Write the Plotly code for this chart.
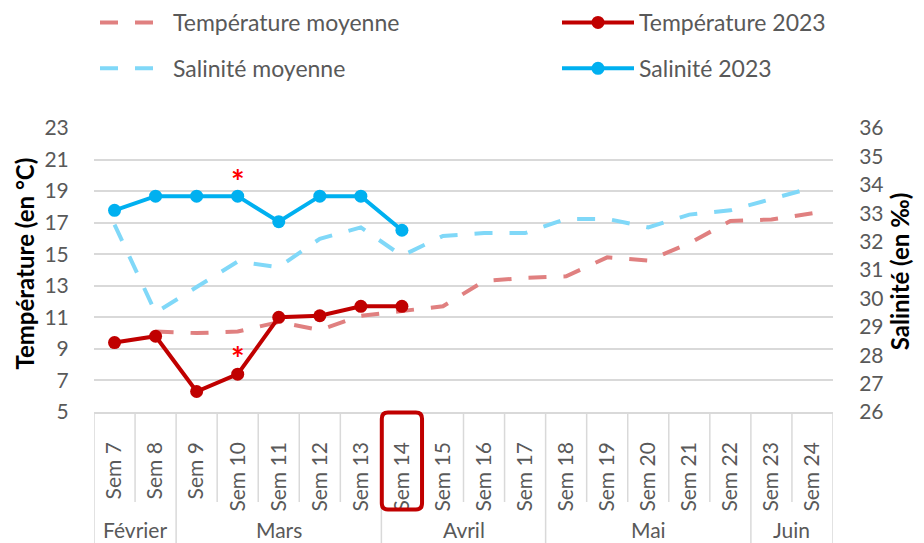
import plotly.graph_objects as go

weeks = ["Sem 7", "Sem 8", "Sem 9", "Sem 10", "Sem 11", "Sem 12", "Sem 13", "Sem 14", "Sem 15",
         "Sem 16", "Sem 17", "Sem 18", "Sem 19", "Sem 20", "Sem 21", "Sem 22", "Sem 23", "Sem 24"]
months = ["Février", "Mars", "Avril", "Mai", "Juin"]
month_of_week = ["Février", "Février", "Mars", "Mars", "Mars", "Mars", "Mars", "Avril", "Avril",
                 "Avril", "Avril", "Mai", "Mai", "Mai", "Mai", "Mai", "Juin", "Juin"]

temp_moyenne = [None, 10.1, 10.0, 10.1, 10.7, 10.2, 11.1, 11.4, 11.7, 13.3, 13.5, 13.6, 14.8, 14.6,
                15.7, 17.1, 17.2, 17.6]
temp_2023 = [9.4, 9.8, 6.3, 7.4, 11.0, 11.1, 11.7, 11.7] + [None] * 10
sal_moyenne = [32.6, 29.5, 30.4, 31.3, 31.1, 32.1, 32.5, 31.5, 32.2, 32.3, 32.3, 32.8, 32.8, 32.5,
               32.95, 33.1, 33.5, 33.9]
sal_2023 = [33.1, 33.6, 33.6, 33.6, 32.7, 33.6, 33.6, 32.4] + [None] * 10

highlight_week = "Sem 14"
star_week = "Sem 10"

FONT = "Lato"
GREY = "#595959"
GRID = "#D9D9D9"
FS = 21
# the page body adds an 8px offset, so the figure is sized to fit the 924x543 window
W, H = 916, 535
ML, MR, MT, MB = 86, 91, 120, 131
PH = H - MT - MB

fig = go.Figure()
fig.add_trace(go.Scatter(x=weeks, y=temp_moyenne, name="Température moyenne", mode="lines",
                         line=dict(color="#E08080", width=4, dash="18px,17px"),
                         legend="legend", legendgroup="a"))
fig.add_trace(go.Scatter(x=weeks, y=sal_moyenne, name="Salinité moyenne", mode="lines",
                         line=dict(color="#80D8F8", width=4, dash="18px,17px"), yaxis="y2",
                         legend="legend", legendgroup="b"))
fig.add_trace(go.Scatter(x=weeks, y=temp_2023, name="Température 2023", mode="lines+markers",
                         line=dict(color="#C00000", width=4), marker=dict(size=13, color="#C00000"),
                         legend="legend2", legendgroup="c"))
fig.add_trace(go.Scatter(x=weeks, y=sal_2023, name="Salinité 2023", mode="lines+markers",
                         line=dict(color="#00B0F0", width=4), marker=dict(size=13, color="#00B0F0"),
                         yaxis="y2", legend="legend2", legendgroup="d"))

n = len(weeks)
# category separators below the axis
for i in range(n + 1):
    b = i - 0.5
    is_month_edge = (i == 0 or i == n or month_of_week[i] != month_of_week[i - 1])
    fig.add_shape(type="line", xref="x", yref="paper", x0=b, x1=b, y0=0,
                  y1=-0.5 if is_month_edge else -0.317,
                  line=dict(color=GRID, width=1.5), layer="below")

# month labels
for m in months:
    idx = [i for i, w in enumerate(month_of_week) if w == m]
    fig.add_annotation(x=(idx[0] + idx[-1]) / 2, y=-0.415, xref="x", yref="paper", text=m,
                       showarrow=False, font=dict(family=FONT, size=FS, color=GREY),
                       xanchor="center", yanchor="middle")

# highlight box around a week label (rounded rectangle)
h = weeks.index(highlight_week)
xa, xb = h - 0.49, h + 0.49
ya, yb = -0.002, -0.343
rx, ry = 0.15, 0.022
path = (f"M {xa+rx},{ya} L {xb-rx},{ya} Q {xb},{ya} {xb},{ya-ry} L {xb},{yb+ry} "
        f"Q {xb},{yb} {xb-rx},{yb} L {xa+rx},{yb} Q {xa},{yb} {xa},{yb+ry} L {xa},{ya-ry} "
        f"Q {xa},{ya} {xa+rx},{ya} Z")
fig.add_shape(type="path", xref="x", yref="paper", path=path,
              line=dict(color="#C00000", width=4))

# asterisks
s = weeks.index(star_week)
fig.add_annotation(x=s, y=34.1, xref="x", yref="y2", text="*", showarrow=False,
                   font=dict(family=FONT, size=32, color="#FF0000", weight="bold"))
fig.add_annotation(x=s, y=8.4, xref="x", yref="y", text="*", showarrow=False,
                   font=dict(family=FONT, size=32, color="#FF0000", weight="bold"))

# axis titles
fig.add_annotation(x=-0.094, y=0.521, xref="paper", yref="paper", text="Température (en °C)",
                   textangle=-90, showarrow=False, xanchor="center", yanchor="middle",
                   font=dict(family=FONT, size=24, color="black", weight="bold"))
fig.add_annotation(x=1.091, y=0.493, xref="paper", yref="paper", text="Salinité (en ‰)",
                   textangle=-90, showarrow=False, xanchor="center", yanchor="middle",
                   font=dict(family=FONT, size=24, color="black", weight="bold"))

legend_top = 1 + (MT + 7) / PH
legend_common = dict(orientation="v", xref="container", yref="paper", xanchor="left",
                     yanchor="top", font=dict(family=FONT, size=23, color=GREY),
                     bgcolor="rgba(0,0,0,0)", tracegroupgap=13, y=legend_top)

fig.update_layout(
    width=W, height=H, autosize=False,
    margin=dict(l=ML, r=MR, t=MT, b=MB, autoexpand=False),
    paper_bgcolor="white", plot_bgcolor="white",
    font=dict(family=FONT, size=FS, color=GREY),
    xaxis=dict(type="category", categoryorder="array", categoryarray=weeks, range=[-0.5, n - 0.5],
               tickangle=-90, showgrid=False, showline=True, linecolor=GRID, linewidth=1.5,
               ticks="", ticklabelstandoff=20, automargin=False,
               tickfont=dict(family=FONT, size=FS, color=GREY)),
    yaxis=dict(range=[5, 23], dtick=2, tick0=5, showgrid=True, gridcolor=GRID, gridwidth=1.5,
               zeroline=False, ticks="outside", ticklen=20, tickcolor="rgba(0,0,0,0)",
               automargin=False, tickfont=dict(family=FONT, size=FS, color=GREY)),
    yaxis2=dict(range=[26, 36], dtick=1, overlaying="y", side="right", showgrid=False,
                zeroline=False, ticks="outside", ticklen=21, tickcolor="rgba(0,0,0,0)",
                automargin=False, tickfont=dict(family=FONT, size=FS, color=GREY)),
    legend=dict(x=87 / W, itemwidth=68, **legend_common),
    legend2=dict(x=549 / W, itemwidth=72, **legend_common),
    showlegend=True,
)

fig.write_html("out.html")
